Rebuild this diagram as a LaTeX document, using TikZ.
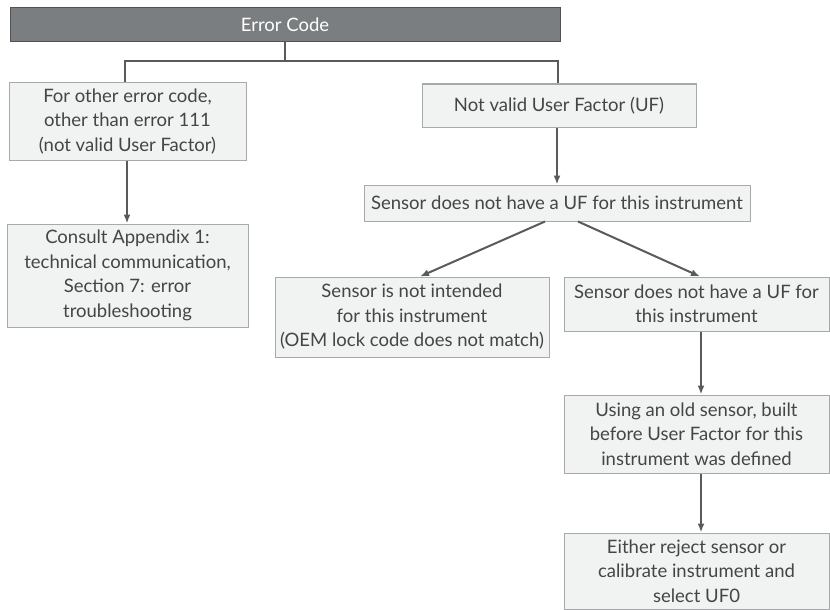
\documentclass[tikz,border=0pt]{standalone}
\usepackage{fontspec}
\setmainfont{Lato}
\usetikzlibrary{arrows.meta}
\definecolor{boxfill}{HTML}{F1F2F2}
\definecolor{boxline}{HTML}{A7A9AB}
\definecolor{hdrfill}{HTML}{7B7E80}
\definecolor{hdrline}{HTML}{505254}
\definecolor{conncol}{HTML}{5A5A5A}
\definecolor{txtcol}{HTML}{454545}
\tikzset{
  boxnode/.style={draw=boxline, fill=boxfill, line width=1pt, align=center, inner sep=0pt,
    text=txtcol, font=\fontsize{18.5}{24.5}\selectfont},
  hdrnode/.style={draw=hdrline, fill=hdrfill, line width=1pt, text=white, inner sep=0pt,
    font=\fontsize{18.5}{22}\selectfont},
  conn/.style={draw=conncol, line width=2pt},
  arr/.style={conn, -{Latex[length=9pt,width=7pt]}}
}
\begin{document}
\begin{tikzpicture}[x=1pt,y=-1pt]
\useasboundingbox (0,0) rectangle (830,610);
\node[hdrnode, minimum width=550pt, minimum height=34pt] (hdr) at (285,25) {Error Code};
\node[boxnode, minimum width=237pt, minimum height=77pt] (b1) at (127.5,121.5) {For other error code,\\other than error 111\\(not valid User Factor)};
\node[boxnode, minimum width=241pt, minimum height=103pt] (b2) at (127.5,275.5) {Consult Appendix 1:\\technical communication,\\Section 7: error\\troubleshooting};
\node[boxnode, minimum width=274pt, minimum height=43pt] (b3) at (559,105.5) {Not valid User Factor (UF)};
\node[boxnode, minimum width=386pt, minimum height=36pt] (b4) at (557,203) {Sensor does not have a UF for this instrument};
\node[boxnode, minimum width=274pt, minimum height=80pt] (b5) at (412,317) {Sensor is not intended\\for this instrument\\(OEM lock code does not match)};
\node[boxnode, minimum width=265pt, minimum height=54pt] (b6) at (696.5,304) {Sensor does not have a UF for\\this instrument};
\node[boxnode, minimum width=265pt, minimum height=78pt] (b7) at (696.5,434) {Using an old sensor, built\\before User Factor for this\\instrument was defined};
\node[boxnode, minimum width=265pt, minimum height=76pt] (b8) at (696.5,571) {Either reject sensor or\\calibrate instrument and\\select UF0};
\coordinate (jl) at (125,61);
\coordinate (jr) at (558,61);
\draw[conn] (hdr.south) -- (hdr.south |- jl);
\draw[conn] (b1.north -| jl) -- (jl) -- (jr) -- (b3.north -| jr);
\draw[arr] (b1.south -| 127,0) -- (b2.north -| 127,0);
\draw[arr] (b3.south -| 557,0) -- (b4.north -| 557,0);
\draw[arr] (b4.south -| 545,0) -- (b5.north -| 420,0);
\draw[arr] (b4.south -| 578,0) -- (b6.north -| 700,0);
\draw[arr] (b6.south -| 701,0) -- (b7.north -| 701,0);
\draw[arr] (b7.south -| 701,0) -- (b8.north -| 701,0);
\end{tikzpicture}
\end{document}
